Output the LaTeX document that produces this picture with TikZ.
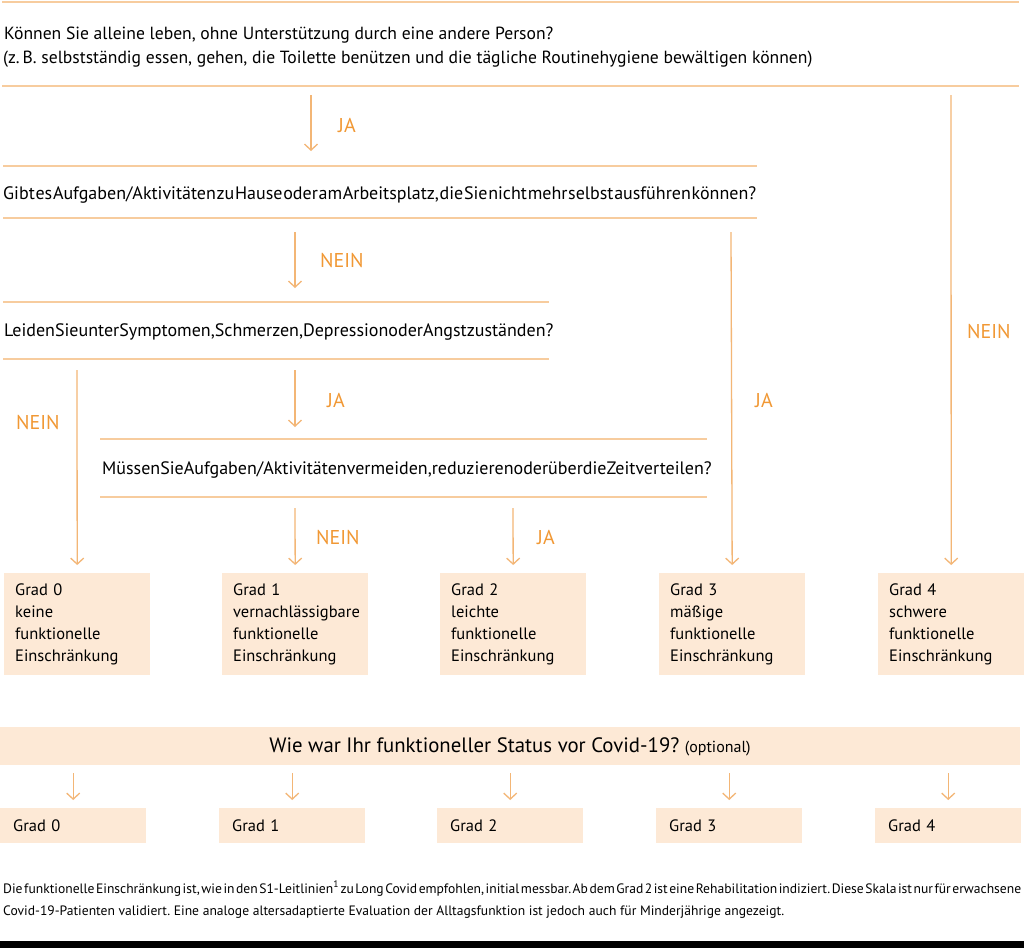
\documentclass[tikz,border=0pt]{standalone}
\usepackage{fontspec}
\setmainfont{PT Sans}
\usetikzlibrary{arrows.meta}
\definecolor{lineor}{RGB}{247,204,158}
\definecolor{arrowor}{RGB}{243,182,118}
\definecolor{labor}{RGB}{241,152,52}
\definecolor{boxfill}{RGB}{253,233,214}
\frenchspacing
\newcommand{\tightline}[2]{\hbox to #1{\spaceskip=0.06em plus 1fil minus 0.06em\relax #2}}
\begin{document}
\begin{tikzpicture}[x=1pt,y=-1pt,
  hline/.style={draw=lineor,line width=1.6pt},
  flow/.style={draw=arrowor,line width=1.3pt,-{Straight Barb[length=6pt,width=13pt,line width=1.3pt]}},
  qtext/.style={anchor=base west,inner sep=0pt,font=\fontsize{18}{22}\selectfont},
  lab/.style={anchor=base west,inner sep=0pt,text=labor,font=\fontsize{20}{24}\selectfont},
  gradebox/.style={fill=boxfill,anchor=north west,inner xsep=11pt,inner ysep=0pt,minimum width=146pt,minimum height=102pt,text width=124pt,align=left,font=\fontsize{16.5}{22}\selectfont},
  prebox/.style={fill=boxfill,anchor=north west,inner xsep=13pt,inner ysep=0pt,minimum width=146pt,minimum height=35pt,text width=120pt,align=left,font=\fontsize{16.5}{20}\selectfont},
  foot/.style={anchor=base west,inner sep=0pt,font=\fontsize{13.6}{16}\selectfont}
]
\useasboundingbox (0,0) rectangle (1024,948);
\fill[white] (0,0) rectangle (1024,948);

% question 1
\draw[hline] (2,2) -- (1019,2);
\draw[hline] (2,86) -- (1019,86);
\node[qtext,font=\fontsize{17.6}{22}\selectfont] (q1a) at (4,39) {Können Sie alleine leben, ohne Unterstützung durch eine andere Person?};
\node[qtext,font=\fontsize{17.6}{22}\selectfont] (q1b) at (3,63) {(z.\,B. selbstständig essen, gehen, die Toilette benützen und die tägliche Routinehygiene bewältigen können)};

% question 2
\draw[hline] (3,166) -- (757,166);
\draw[hline] (3,218) -- (757,218);
\node[qtext] (q2) at (3,199) {\tightline{753pt}{Gibt es Aufgaben/Aktivitäten zu Hause oder am Arbeitsplatz, die Sie nicht mehr selbst ausführen können?}};

% question 3
\draw[hline] (3,302) -- (549,302);
\draw[hline] (3,359) -- (549,359);
\node[qtext] (q3) at (4,336) {\tightline{542pt}{Leiden Sie unter Symptomen, Schmerzen, Depression oder Angstzuständen?}};

% question 4
\draw[hline] (100,439) -- (707,439);
\draw[hline] (100,497) -- (707,497);
\node[qtext] (q4) at (102,474) {\tightline{605pt}{Müssen Sie Aufgaben/Aktivitäten vermeiden, reduzieren oder über die Zeit verteilen?}};

% grade boxes
\node[gradebox] (g0) at (4,573) {Grad 0\\keine\\funktionelle\\Einschränkung};
\node[gradebox] (g1) at (222,573) {Grad 1\\vernachlässigbare\\funktionelle\\Einschränkung};
\node[gradebox] (g2) at (440,573) {Grad 2\\leichte\\funktionelle\\Einschränkung};
\node[gradebox] (g3) at (659,573) {Grad 3\\mäßige\\funktionelle\\Einschränkung};
\node[gradebox] (g4) at (878,573) {Grad 4\\schwere\\funktionelle\\Einschränkung};

% connector start points
\coordinate (s1) at (311,95);
\coordinate (e1) at (311,151);
\coordinate (s4) at (951,95);
\coordinate (s2) at (295,232);
\coordinate (e2) at (295,288);
\coordinate (s3) at (731,232);
\coordinate (s5) at (77,370);
\coordinate (s6) at (295,370);
\coordinate (e6) at (295,427);
\coordinate (s7) at (295,508);
\coordinate (s8) at (513,508);

\draw[flow] (s1) -- (e1);
\draw[flow,shorten >=8pt] (s4) -- (g4.north);
\draw[flow] (s2) -- (e2);
\draw[flow,shorten >=8pt] (s3) -- (g3.north);
\draw[flow,shorten >=8pt] (s5) -- (g0.north);
\draw[flow] (s6) -- (e6);
\draw[flow,shorten >=8pt] (s7) -- (g1.north);
\draw[flow,shorten >=8pt] (s8) -- (g2.north);

% labels
\node[lab] (l1) at (338,132) {JA};
\node[lab] (l2) at (967,338) {NEIN};
\node[lab] (l3) at (320,267) {NEIN};
\node[lab] (l4) at (755,407) {JA};
\node[lab] (l5) at (16,429) {NEIN};
\node[lab] (l6) at (327,407) {JA};
\node[lab] (l7) at (316,544) {NEIN};
\node[lab] (l8) at (537,544) {JA};

% pre-covid status
\node[fill=boxfill,anchor=north west,inner sep=0pt,minimum width=1020pt,minimum height=38pt] (bar) at (0,727) {};
\node[anchor=base,inner sep=0pt,font=\fontsize{20.8}{24}\selectfont] (bart) at (510,752) {Wie war Ihr funktioneller Status vor Covid-19? {\fontsize{16}{18}\selectfont (optional)}};

\node[prebox] (p0) at (0,808) {Grad 0};
\node[prebox] (p1) at (219,808) {Grad 1};
\node[prebox] (p2) at (437,808) {Grad 2};
\node[prebox] (p3) at (656,808) {Grad 3};
\node[prebox] (p4) at (875,808) {Grad 4};

\foreach \i in {0,...,4}{
  \draw[flow,shorten <=8pt,shorten >=8pt] (bar.south -| p\i.north) -- (p\i.north);
}

% footnote
\node[foot] (f1) at (3,893) {\tightline{1018pt}{Die funktionelle Einschränkung ist, wie in den S1-Leitlinien\textsuperscript{1} zu Long Covid empfohlen, initial messbar. Ab dem Grad 2 ist eine Rehabilitation indiziert. Diese Skala ist nur für erwachsene}};
\node[foot] (f2) at (3,915) {Covid-19-Patienten validiert. Eine analoge altersadaptierte Evaluation der Alltagsfunktion ist jedoch auch für Minderjährige angezeigt.};

\fill[black] (0,941) rectangle (1024,948);
\end{tikzpicture}
\end{document}
